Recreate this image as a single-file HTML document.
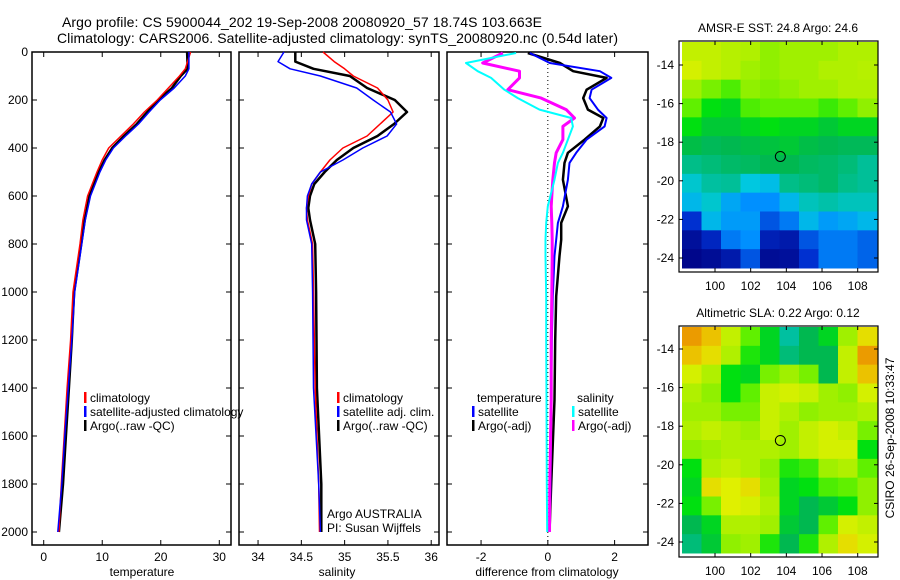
<!DOCTYPE html>
<html><head><meta charset="utf-8"><style>
html,body{margin:0;padding:0;background:#fff;}
svg{display:block;font-family:"Liberation Sans",sans-serif;}
</style></head><body>
<svg id="fig" width="900" height="580" viewBox="0 0 900 580" xmlns="http://www.w3.org/2000/svg">
<text x="62" y="27" font-size="14" textLength="480">Argo profile: CS 5900044_202 19-Sep-2008 20080920_57 18.74S 103.663E</text>
<text x="57" y="43" font-size="14" textLength="561">Climatology: CARS2006. Satellite-adjusted climatology: synTS_20080920.nc (0.54d later)</text>
</svg>
<script>
// ---- data ----
const depthT = [0,70,100,150,200,250,300,350,400,450,500,600,700,800,1000,1200,1400,1600,1800,2000];
const tempClim = [25.1,24.2,23.2,21.3,19.4,17.2,15.3,13.2,11.1,10.0,9.1,7.5,6.7,6.2,5.0,4.6,4.0,3.5,3.0,2.6];
const tempSat  = [24.8,24.8,24.2,22.3,19.9,18.0,16.2,14.0,11.9,10.6,9.6,8.0,7.1,6.5,5.3,4.8,4.2,3.6,3.1,2.4];
const tempArgo = [24.5,24.6,23.4,21.9,19.6,17.7,15.9,13.7,11.7,10.4,9.4,7.8,7.0,6.4,5.2,4.8,4.3,3.8,3.3,2.6];
const depthS = [0,40,70,100,150,200,250,300,350,400,450,500,550,600,650,700,800,1000,1400,1800,2000];
const salClim = [34.75,34.88,35.0,35.1,35.38,35.5,35.56,35.41,35.26,34.98,34.83,34.72,34.62,34.58,34.56,34.57,34.63,34.64,34.66,34.70,34.71];
const salSat  = [34.3,34.23,34.37,34.72,35.14,35.33,35.53,35.6,35.49,35.21,34.98,34.72,34.62,34.57,34.56,34.56,34.62,34.63,34.64,34.70,34.72];
const salArgo = [34.43,34.43,34.64,35.06,35.26,35.58,35.72,35.57,35.38,35.1,34.91,34.77,34.65,34.6,34.58,34.6,34.66,34.67,34.68,34.73,34.73];
const depthD = [4,46,80,108,157,192,240,275,310,365,420,462,532,643,712,782,850,1017,1200,1450,1800,2000];
const dTempSat  = [-0.54,0.06,1.56,1.9,1.31,1.25,1.5,1.76,1.7,1.16,0.85,0.65,0.6,0.45,0.3,0.25,0.2,0.15,0.12,0.1,0.08,0.05];
const dTempArgo = [-0.6,0.36,0.76,1.76,1.16,1.06,1.2,1.66,1.56,1.1,0.6,0.5,0.45,0.6,0.4,0.4,0.35,0.25,0.22,0.2,0.1,0.05];
const dSalSat   = [-0.95,-2.45,-2.1,-1.7,-1.3,-0.9,-0.25,0.7,0.75,0.6,0.45,0.3,0.2,0.0,-0.05,-0.07,-0.07,-0.05,-0.05,-0.04,-0.03,-0.02];
const dSalArgo  = [-1.35,-1.95,-0.85,-0.85,-1.2,-0.2,0.55,0.8,0.45,0.45,0.25,0.2,0.15,0.1,0.12,0.13,0.13,0.12,0.1,0.1,0.06,0.05];
const depthTicks = [0,200,400,600,800,1000,1200,1400,1600,1800,2000];
const tempTicks = [0,10,20,30];
const salTicks = [34,34.5,35,35.5,36];
const salTickLabels = ["34","34.5","35","35.5","36"];
const diffTicks = [-2,0,2];
const lonTicks = [100,102,104,106,108];
const latTicks = [-14,-16,-18,-20,-22,-24];
const sstGrid = [
[0.85,0.85,0.83,0.82,0.78,0.80,0.80,0.80,0.82,0.82],
[0.88,0.85,0.83,0.80,0.78,0.80,0.80,0.82,0.82,0.83],
[0.80,0.75,0.70,0.78,0.76,0.78,0.80,0.80,0.82,0.82],
[0.72,0.62,0.60,0.70,0.72,0.72,0.72,0.68,0.72,0.78],
[0.62,0.58,0.58,0.60,0.62,0.60,0.60,0.58,0.60,0.60],
[0.56,0.54,0.55,0.56,0.57,0.58,0.56,0.55,0.54,0.54],
[0.48,0.50,0.52,0.53,0.55,0.55,0.53,0.52,0.50,0.46],
[0.40,0.45,0.46,0.38,0.36,0.48,0.50,0.52,0.48,0.46],
[0.35,0.40,0.32,0.28,0.28,0.35,0.42,0.44,0.42,0.42],
[0.15,0.35,0.30,0.30,0.20,0.25,0.35,0.30,0.32,0.35],
[0.05,0.12,0.25,0.28,0.10,0.08,0.20,0.25,0.25,0.22],
[0.02,0.04,0.08,0.20,0.04,0.05,0.15,0.25,0.25,0.22]];
const slaGrid = [
[0.98,0.95,0.85,0.72,0.60,0.45,0.55,0.60,0.80,0.92],
[0.95,0.92,0.82,0.65,0.60,0.50,0.55,0.55,0.85,0.98],
[0.88,0.82,0.62,0.60,0.75,0.80,0.75,0.55,0.85,0.95],
[0.82,0.78,0.62,0.72,0.86,0.88,0.86,0.80,0.78,0.88],
[0.80,0.80,0.75,0.75,0.86,0.82,0.78,0.80,0.80,0.82],
[0.82,0.85,0.82,0.80,0.86,0.80,0.85,0.88,0.85,0.75],
[0.78,0.80,0.82,0.82,0.82,0.80,0.85,0.88,0.88,0.62],
[0.62,0.82,0.85,0.82,0.78,0.65,0.68,0.80,0.82,0.72],
[0.60,0.92,0.90,0.92,0.80,0.60,0.62,0.70,0.72,0.78],
[0.62,0.75,0.90,0.88,0.82,0.60,0.55,0.58,0.62,0.78],
[0.55,0.60,0.82,0.82,0.80,0.58,0.55,0.72,0.88,0.85],
[0.50,0.58,0.78,0.80,0.65,0.55,0.65,0.82,0.92,0.88]];
const floatLon = 103.663, floatLat = -18.74;

// ---- drawing ----
const NS="http://www.w3.org/2000/svg";
const svg=document.getElementById('fig');
function mk(tag,attrs,parent){const e=document.createElementNS(NS,tag);for(const k in attrs)e.setAttribute(k,attrs[k]);(parent||svg).appendChild(e);return e;}
const yTop=52, yPer=0.24, boxTop=52, boxBot=545;
const yD=d=>yTop+d*yPer;
function panel(name,x0,x1,xmin,xmax){
  const sx=v=>x0+(v-xmin)/(xmax-xmin)*(x1-x0);
  const g=mk('g',{});
  
  
  const r=mk('rect',{x:x0,y:boxTop,width:x1-x0,height:boxBot-boxTop,fill:'none',stroke:'#000','stroke-width':1.5},g);
  
  
  depthTicks.forEach(d=>{const y=yD(d);mk('line',{x1:x0,x2:x0+5,y1:y,y2:y,stroke:'#000'},g);mk('line',{x1:x1,x2:x1-5,y1:y,y2:y,stroke:'#000'},g);});
  return {sx,g,x0,x1};
}
function line(p,xs,ds,color,w,name){
  const pts=xs.map((v,i)=>p.sx(v).toFixed(1)+','+yD(ds[i]).toFixed(1)).join(' ');
  const e=mk('polyline',{points:pts,fill:'none',stroke:color,'stroke-width':w,'stroke-linejoin':'round'},p.g);
  
  
}
function xticks(p,vals,labels,title,tx){
  vals.forEach((v,i)=>{const x=p.sx(v);mk('line',{x1:x,x2:x,y1:boxBot,y2:boxBot-5,stroke:'#000'},p.g);mk('line',{x1:x,x2:x,y1:boxTop,y2:boxTop+5,stroke:'#000'},p.g);
    const t=mk('text',{x:x,y:561,'font-size':12,'text-anchor':'middle'},p.g);t.textContent=labels[i];
    
    });
  const t=mk('text',{x:tx,y:576,'font-size':12,'text-anchor':'middle'},p.g);t.textContent=title;
  
  
}
function legend(p,x,y,items){
  items.forEach((it,i)=>{const yy=y+i*14;
    if(it[1]) mk('rect',{x:x,y:yy-10,width:2.5,height:11,fill:it[1]},p.g);
    const t=mk('text',{x:x+6,y:yy,'font-size':12},p.g);t.textContent=it[0];
    
    });
}
// panel 1
const p1=panel('temperature-panel',32,231,-2,32);
depthTicks.forEach(d=>{const t=mk('text',{x:28,y:yD(d)+4,'font-size':12,'text-anchor':'end'});t.textContent=d;
  
  });
line(p1,tempArgo,depthT,'#000',2.5,'temp-argo-line');
line(p1,tempClim,depthT,'#f00',1.5,'temp-climatology-line');
line(p1,tempSat,depthT,'#00f',1.5,'temp-satellite-line');
xticks(p1,tempTicks,tempTicks.map(String),'temperature',142);
legend(p1,84,402,[['climatology','#f00'],['satellite-adjusted climatology','#00f'],['Argo(..raw -QC)','#000']]);
// panel 2
const p2=panel('salinity-panel',239,439,33.78,36.09);
line(p2,salArgo,depthS,'#000',2.5,'sal-argo-line');
line(p2,salClim,depthS,'#f00',1.5,'sal-climatology-line');
line(p2,salSat,depthS,'#00f',1.5,'sal-satellite-line');
xticks(p2,salTicks,salTickLabels,'salinity',337);
legend(p2,337,402,[['climatology','#f00'],['satellite adj. clim.','#00f'],['Argo(..raw -QC)','#000']]);
legend(p2,321,518,[['Argo AUSTRALIA',null],['PI: Susan Wijffels',null]]);
// panel 3
const p3=panel('difference-panel',447,648,-3.02,3.0);
mk('line',{x1:p3.sx(0),x2:p3.sx(0),y1:boxTop,y2:boxBot,stroke:'#000','stroke-dasharray':'1,3'},p3.g);
line(p3,dTempArgo,depthD,'#000',2.5,'diff-temp-argo-line');
line(p3,dTempSat,depthD,'#00f',2,'diff-temp-satellite-line');
line(p3,dSalArgo,depthD,'#f0f',3,'diff-sal-argo-line');
line(p3,dSalSat,depthD,'#0ff',2,'diff-sal-satellite-line');
xticks(p3,diffTicks,diffTicks.map(String),'difference from climatology',547);
legend(p3,471,402,[['temperature',null]]);
legend(p3,472,416,[['satellite','#00f'],['Argo(-adj)','#000']]);
legend(p3,571,402,[['salinity',null]]);
legend(p3,572,416,[['satellite','#0ff'],['Argo(-adj)','#f0f']]);
// maps
const stops=[[0,[0,0,128]],[0.15,[0,48,208]],[0.28,[0,144,255]],[0.38,[0,200,224]],[0.45,[0,192,160]],[0.55,[0,184,80]],[0.62,[0,224,16]],[0.72,[96,240,0]],[0.82,[176,240,0]],[0.9,[224,240,0]],[0.97,[240,176,0]],[1.0,[224,112,0]]];
function cmap(v){for(let i=1;i<stops.length;i++){if(v<=stops[i][0]){const a=stops[i-1],b=stops[i],t=(v-a[0])/(b[0]-a[0]);return 'rgb('+a[1].map((c,k)=>Math.round(c+(b[1][k]-c)*t)).join(',')+')';}}return 'rgb(224,112,0)';}
function map(name,grid,top,lat14y,lat24y,title){
  const bx0=679,bx1=878,by0=top,by1=top+231;
  const lx=v=>715+(v-100)*(857.7-715)/8;
  const ly=v=>lat14y+(v+14)*(lat24y-lat14y)/(-10);
  const g=mk('g',{});
  
  
  const ix0=682,ix1=877,iy0=by0+1,iy1=by1-4;
  const rows=grid.length,cols=grid[0].length,cw=(ix1-ix0)/cols,ch=(iy1-iy0)/rows;
  grid.forEach((row,r)=>row.forEach((v,c)=>{const e=mk('rect',{x:ix0+c*cw,y:iy0+r*ch,width:cw+0.5,height:ch+0.5,fill:cmap(v)},g);
    
    }));
  mk('rect',{x:bx0,y:by0,width:bx1-bx0,height:by1-by0,fill:'none',stroke:'#000','stroke-width':1.2},g);
  lonTicks.forEach(v=>{const x=lx(v);mk('line',{x1:x,x2:x,y1:by1,y2:by1-4,stroke:'#000'},g);mk('line',{x1:x,x2:x,y1:by0,y2:by0+4,stroke:'#000'},g);
    const t=mk('text',{x:x,y:by1+18,'font-size':12,'text-anchor':'middle'},g);t.textContent=v;
    
    });
  latTicks.forEach(v=>{const y=ly(v);mk('line',{x1:bx0,x2:bx0+4,y1:y,y2:y,stroke:'#000'},g);mk('line',{x1:bx1,x2:bx1-4,y1:y,y2:y,stroke:'#000'},g);
    const t=mk('text',{x:674,y:y+4,'font-size':12,'text-anchor':'end'},g);t.textContent=v;
    
    });
  const c=mk('circle',{cx:lx(floatLon),cy:ly(floatLat),r:5,fill:'none',stroke:'#000','stroke-width':1},g);
  
  
  const t=mk('text',{x:778,y:top-9,'font-size':12,'text-anchor':'middle'},g);t.textContent=title;
  
  
}
map('sst-map',sstGrid,41,65,258,'AMSR-E SST: 24.8 Argo: 24.6');
map('sla-map',slaGrid,326,349,542,'Altimetric SLA: 0.22 Argo: 0.12');
const ct=mk('text',{x:0,y:0,'font-size':12,'text-anchor':'middle',transform:'translate(894,438) rotate(-90)'});
ct.textContent='CSIRO 26-Sep-2008 10:33:47';


</script>
</body></html>
